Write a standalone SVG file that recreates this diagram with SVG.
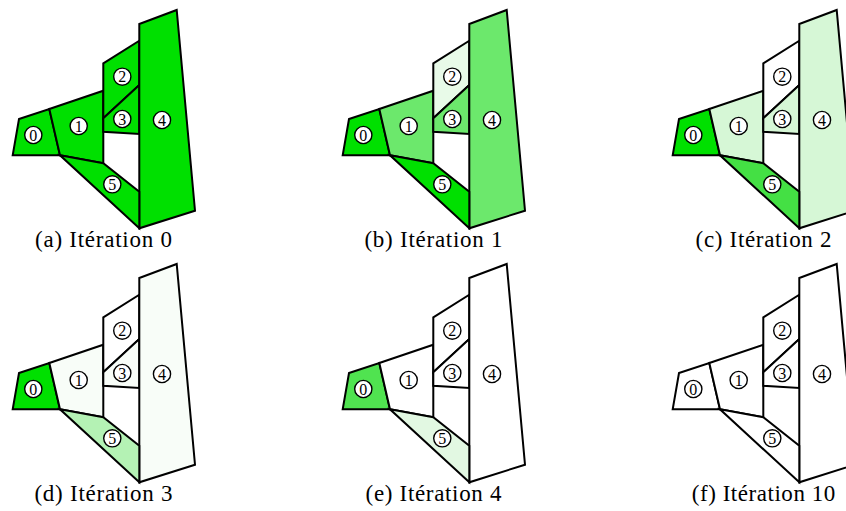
<svg xmlns="http://www.w3.org/2000/svg" xmlns:xlink="http://www.w3.org/1999/xlink" width="846" height="511" viewBox="0 0 846 511">
<style>
.cell{stroke:#000;stroke-width:2;stroke-linejoin:miter}
.lbl circle{fill:#fff;stroke:#000;stroke-width:1.4}
.lbl text{font-family:"Liberation Serif",serif;font-size:16px;text-anchor:middle;fill:#000}
.cap{font-family:"Liberation Serif",serif;font-size:23px;text-anchor:middle;fill:#000}
.g100{fill:#00e000}.g55{fill:#6ce86c}.g08{fill:#e8fae8}.g70{fill:#44e044}.g15{fill:#d6f7d6}
.g35{fill:#b4f2b4}.g02{fill:#f8fdf8}.g75{fill:#50e350}.g12{fill:#e2f8e2}.w{fill:#fff}
</style>
<defs>
<polygon id="s0" points="19,119 49.3,109 60,155.3 12.7,155.3"/>
<polygon id="s1" points="49.3,109 103.3,90.7 103.3,163.3 60,155.3"/>
<polygon id="s2" points="103.3,63.3 139.3,40.7 139.3,85 103.3,118.3"/>
<polygon id="s3" points="103.3,118.3 139.3,85 139.3,134 103.3,131.7"/>
<polygon id="s4" points="139.3,24 176.7,10 195,210.7 139.3,228.3"/>
<polygon id="s5" points="60,155.3 103.3,163.3 139.3,191.7 139.3,228.3"/>
</defs>
<rect width="846" height="511" fill="#fff"/>

<g id="panel-a" transform="translate(0,0)">
<g id="a-cell0"><use xlink:href="#s0" class="cell g100"/><g class="lbl"><circle cx="33.3" cy="135" r="8.6"/><text x="33.3" y="140.5">0</text></g></g>
<g id="a-cell1"><use xlink:href="#s1" class="cell g100"/><g class="lbl"><circle cx="78.7" cy="126" r="8.6"/><text x="78.7" y="131.5">1</text></g></g>
<g id="a-cell2"><use xlink:href="#s2" class="cell g100"/><g class="lbl"><circle cx="122.3" cy="76.7" r="8.6"/><text x="122.3" y="82.2">2</text></g></g>
<g id="a-cell3"><use xlink:href="#s3" class="cell g100"/><g class="lbl"><circle cx="122.3" cy="119" r="8.6"/><text x="122.3" y="124.5">3</text></g></g>
<g id="a-cell4"><use xlink:href="#s4" class="cell g100"/><g class="lbl"><circle cx="162" cy="120" r="8.6"/><text x="162" y="125.5">4</text></g></g>
<g id="a-cell5"><use xlink:href="#s5" class="cell g100"/><g class="lbl"><circle cx="112.3" cy="184.3" r="8.6"/><text x="112.3" y="189.8">5</text></g></g>
<text class="cap" x="103.5" y="246.5" textLength="137" lengthAdjust="spacing">(a) Itération 0</text>
</g>

<g id="panel-b" transform="translate(330,0)">
<g id="b-cell0"><use xlink:href="#s0" class="cell g100"/><g class="lbl"><circle cx="33.3" cy="135" r="8.6"/><text x="33.3" y="140.5">0</text></g></g>
<g id="b-cell1"><use xlink:href="#s1" class="cell g55"/><g class="lbl"><circle cx="78.7" cy="126" r="8.6"/><text x="78.7" y="131.5">1</text></g></g>
<g id="b-cell2"><use xlink:href="#s2" class="cell g08"/><g class="lbl"><circle cx="122.3" cy="76.7" r="8.6"/><text x="122.3" y="82.2">2</text></g></g>
<g id="b-cell3"><use xlink:href="#s3" class="cell g55"/><g class="lbl"><circle cx="122.3" cy="119" r="8.6"/><text x="122.3" y="124.5">3</text></g></g>
<g id="b-cell4"><use xlink:href="#s4" class="cell g55"/><g class="lbl"><circle cx="162" cy="120" r="8.6"/><text x="162" y="125.5">4</text></g></g>
<g id="b-cell5"><use xlink:href="#s5" class="cell g100"/><g class="lbl"><circle cx="112.3" cy="184.3" r="8.6"/><text x="112.3" y="189.8">5</text></g></g>
<text class="cap" x="103.5" y="246.5" textLength="138.2" lengthAdjust="spacing">(b) Itération 1</text>
</g>

<g id="panel-c" transform="translate(660,0)">
<g id="c-cell0"><use xlink:href="#s0" class="cell g100"/><g class="lbl"><circle cx="33.3" cy="135" r="8.6"/><text x="33.3" y="140.5">0</text></g></g>
<g id="c-cell1"><use xlink:href="#s1" class="cell g15"/><g class="lbl"><circle cx="78.7" cy="126" r="8.6"/><text x="78.7" y="131.5">1</text></g></g>
<g id="c-cell2"><use xlink:href="#s2" class="cell w"/><g class="lbl"><circle cx="122.3" cy="76.7" r="8.6"/><text x="122.3" y="82.2">2</text></g></g>
<g id="c-cell3"><use xlink:href="#s3" class="cell g15"/><g class="lbl"><circle cx="122.3" cy="119" r="8.6"/><text x="122.3" y="124.5">3</text></g></g>
<g id="c-cell4"><use xlink:href="#s4" class="cell g15"/><g class="lbl"><circle cx="162" cy="120" r="8.6"/><text x="162" y="125.5">4</text></g></g>
<g id="c-cell5"><use xlink:href="#s5" class="cell g70"/><g class="lbl"><circle cx="112.3" cy="184.3" r="8.6"/><text x="112.3" y="189.8">5</text></g></g>
<text class="cap" x="103.5" y="246.5" textLength="135.8" lengthAdjust="spacing">(c) Itération 2</text>
</g>

<g id="panel-d" transform="translate(0,254)">
<g id="d-cell0"><use xlink:href="#s0" class="cell g100"/><g class="lbl"><circle cx="33.3" cy="135" r="8.6"/><text x="33.3" y="140.5">0</text></g></g>
<g id="d-cell1"><use xlink:href="#s1" class="cell g02"/><g class="lbl"><circle cx="78.7" cy="126" r="8.6"/><text x="78.7" y="131.5">1</text></g></g>
<g id="d-cell2"><use xlink:href="#s2" class="cell w"/><g class="lbl"><circle cx="122.3" cy="76.7" r="8.6"/><text x="122.3" y="82.2">2</text></g></g>
<g id="d-cell3"><use xlink:href="#s3" class="cell g02"/><g class="lbl"><circle cx="122.3" cy="119" r="8.6"/><text x="122.3" y="124.5">3</text></g></g>
<g id="d-cell4"><use xlink:href="#s4" class="cell g02"/><g class="lbl"><circle cx="162" cy="120" r="8.6"/><text x="162" y="125.5">4</text></g></g>
<g id="d-cell5"><use xlink:href="#s5" class="cell g35"/><g class="lbl"><circle cx="112.3" cy="184.3" r="8.6"/><text x="112.3" y="189.8">5</text></g></g>
<text class="cap" x="103.5" y="246.5" textLength="138.2" lengthAdjust="spacing">(d) Itération 3</text>
</g>

<g id="panel-e" transform="translate(330,254)">
<g id="e-cell0"><use xlink:href="#s0" class="cell g75"/><g class="lbl"><circle cx="33.3" cy="135" r="8.6"/><text x="33.3" y="140.5">0</text></g></g>
<g id="e-cell1"><use xlink:href="#s1" class="cell w"/><g class="lbl"><circle cx="78.7" cy="126" r="8.6"/><text x="78.7" y="131.5">1</text></g></g>
<g id="e-cell2"><use xlink:href="#s2" class="cell w"/><g class="lbl"><circle cx="122.3" cy="76.7" r="8.6"/><text x="122.3" y="82.2">2</text></g></g>
<g id="e-cell3"><use xlink:href="#s3" class="cell w"/><g class="lbl"><circle cx="122.3" cy="119" r="8.6"/><text x="122.3" y="124.5">3</text></g></g>
<g id="e-cell4"><use xlink:href="#s4" class="cell w"/><g class="lbl"><circle cx="162" cy="120" r="8.6"/><text x="162" y="125.5">4</text></g></g>
<g id="e-cell5"><use xlink:href="#s5" class="cell g12"/><g class="lbl"><circle cx="112.3" cy="184.3" r="8.6"/><text x="112.3" y="189.8">5</text></g></g>
<text class="cap" x="103.5" y="246.5" textLength="135.8" lengthAdjust="spacing">(e) Itération 4</text>
</g>

<g id="panel-f" transform="translate(660,254)">
<g id="f-cell0"><use xlink:href="#s0" class="cell w"/><g class="lbl"><circle cx="33.3" cy="135" r="8.6"/><text x="33.3" y="140.5">0</text></g></g>
<g id="f-cell1"><use xlink:href="#s1" class="cell w"/><g class="lbl"><circle cx="78.7" cy="126" r="8.6"/><text x="78.7" y="131.5">1</text></g></g>
<g id="f-cell2"><use xlink:href="#s2" class="cell w"/><g class="lbl"><circle cx="122.3" cy="76.7" r="8.6"/><text x="122.3" y="82.2">2</text></g></g>
<g id="f-cell3"><use xlink:href="#s3" class="cell w"/><g class="lbl"><circle cx="122.3" cy="119" r="8.6"/><text x="122.3" y="124.5">3</text></g></g>
<g id="f-cell4"><use xlink:href="#s4" class="cell w"/><g class="lbl"><circle cx="162" cy="120" r="8.6"/><text x="162" y="125.5">4</text></g></g>
<g id="f-cell5"><use xlink:href="#s5" class="cell w"/><g class="lbl"><circle cx="112.3" cy="184.3" r="8.6"/><text x="112.3" y="189.8">5</text></g></g>
<text class="cap" x="103.5" y="246.5" textLength="143.5" lengthAdjust="spacing">(f) Itération 10</text>
</g>
</svg>
